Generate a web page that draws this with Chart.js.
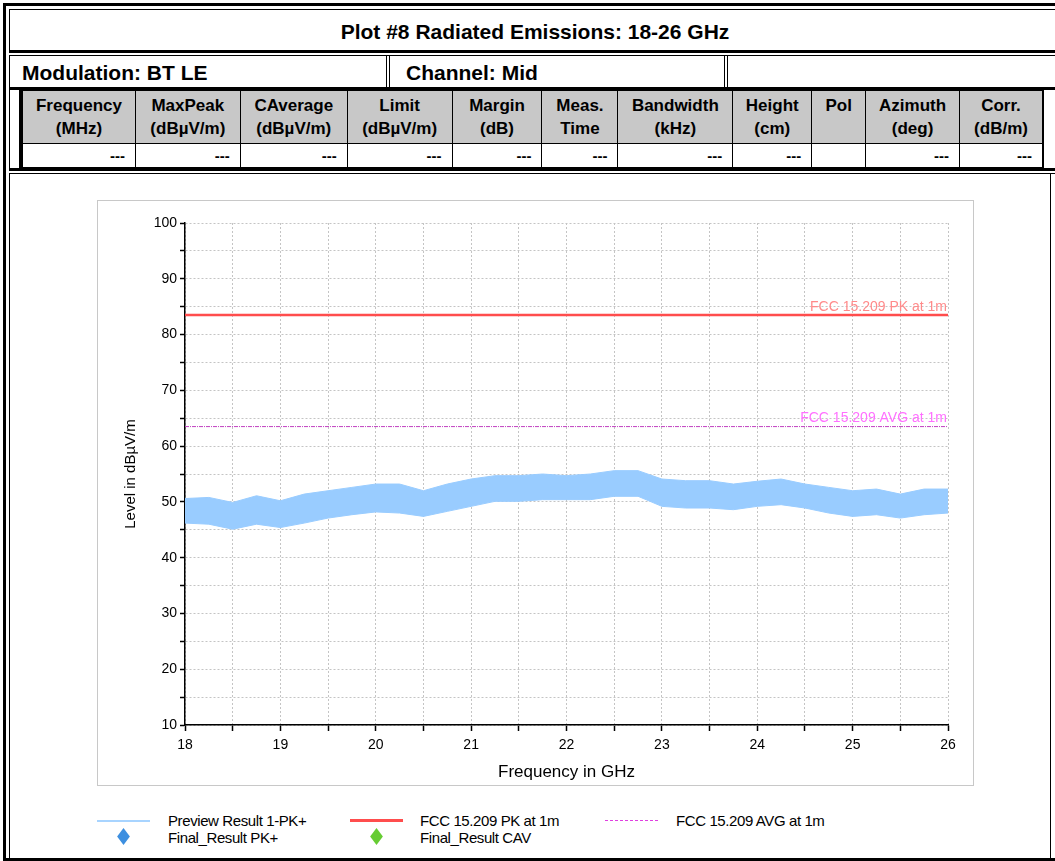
<!DOCTYPE html>
<html>
<head>
<meta charset="utf-8">
<script src="https://cdn.jsdelivr.net/npm/chart.js@4.4.1/dist/chart.umd.min.js"></script>
<style>
  body { margin: 0; background: #fff; font-family: "Liberation Sans", Arial, sans-serif; }
  #page { position: relative; width: 1055px; height: 861px; overflow: hidden; }
  .box { position: absolute; box-sizing: border-box; }
  .hdr td { background: #c8c8c8; font-weight: bold; font-size: 17px; text-align: center; line-height: 23px; }
  table { border-collapse: collapse; position: absolute; }
  td { border: 1px solid #000; padding: 0; }
  .row td { font-weight: bold; font-size: 15px; text-align: right; padding-right: 10px; height: 23px; }
  #panel { position: absolute; left: 97px; top: 200px; width: 877px; height: 586px; border: 1px solid #c8c8c8; box-sizing: border-box; }
  #panel canvas { position: absolute; left: -1px; top: -1px; }
  .lg { position: absolute; font-size: 15px; letter-spacing: -0.4px; color: #000; }
</style>
</head>
<body>
<div id="page">
  <!-- outer frame -->
  <div class="box" style="left:3px;top:3px;width:1060px;height:858px;border:3px solid #000;"></div>
  <!-- title -->
  <div class="box" style="left:9px;top:9px;width:1050px;height:44px;border:1px solid #000;border-bottom:3px solid #000;"></div>
  <div class="box" style="left:9px;top:20px;width:1052px;text-align:center;font-weight:bold;font-size:21px;">Plot #8 Radiated Emissions: 18-26 GHz</div>
  <!-- modulation / channel row -->
  <div class="box" style="left:9px;top:55px;width:1050px;height:35px;border-top:1px solid #000;border-bottom:3px solid #000;"></div>
  <div class="box" style="left:9px;top:55px;width:378px;height:33px;border-right:1px solid #000;border-left:1px solid #000;"></div>
  <div class="box" style="left:389px;top:55px;width:336px;height:33px;border-left:1px solid #000;border-right:1px solid #000;"></div>
  <div class="box" style="left:727px;top:55px;width:2px;height:33px;border-left:1px solid #000;"></div>
  <div class="box" style="left:22px;top:61px;font-weight:bold;font-size:21px;">Modulation: BT LE</div>
  <div class="box" style="left:406px;top:61px;font-weight:bold;font-size:21px;">Channel: Mid</div>
  <!-- results table -->
  <div class="box" style="left:9px;top:90px;width:13px;height:78px;border-left:1px solid #000;border-right:3px solid #000;"></div>
  <table style="left:22px;top:90px;width:1021px;">
    <tr class="hdr">
      <td style="width:112px;height:52px;">Frequency<br>(MHz)</td>
      <td style="width:104px;">MaxPeak<br>(dBµV/m)</td>
      <td style="width:106px;">CAverage<br>(dBµV/m)</td>
      <td style="width:104px;">Limit<br>(dBµV/m)</td>
      <td style="width:89px;">Margin<br>(dB)</td>
      <td style="width:75px;">Meas.<br>Time</td>
      <td style="width:114px;">Bandwidth<br>(kHz)</td>
      <td style="width:78px;">Height<br>(cm)</td>
      <td style="width:53px;">Pol<br>&nbsp;</td>
      <td style="width:93px;">Azimuth<br>(deg)</td>
      <td style="width:82px;">Corr.<br>(dB/m)</td>
    </tr>
    <tr class="row">
      <td>---</td><td>---</td><td>---</td><td>---</td><td>---</td><td>---</td>
      <td>---</td><td>---</td><td></td><td>---</td><td>---</td>
    </tr>
  </table>
  <div class="box" style="left:1043px;top:90px;width:12px;height:78px;border-left:1px solid #000;"></div>
  <div class="box" style="left:9px;top:168px;width:1050px;height:6px;border-top:3px solid #000;border-bottom:1px solid #000;"></div>
  <!-- chart section -->
  <div class="box" style="left:9px;top:174px;width:1042px;height:685px;border-left:1px solid #000;border-right:1px solid #000;"></div>

  <div id="panel"><canvas id="chart" width="877" height="586"></canvas></div>

  <!-- legend -->
  <div class="box" style="left:97px;top:820px;width:53px;height:2px;background:#a8d4ff;"></div>
  <div class="lg" style="left:168px;top:812px;">Preview Result 1-PK+</div>
  <div class="box" style="left:350px;top:819px;width:53px;height:3px;background:#ff4d4d;"></div>
  <div class="lg" style="left:420px;top:812px;">FCC 15.209 PK at 1m</div>
  <div class="box" style="left:605px;top:820px;width:53px;height:0;border-top:1px dashed #e040e0;"></div>
  <div class="lg" style="left:676px;top:812px;">FCC 15.209 AVG at 1m</div>
  <div class="box" style="left:119px;top:832px;width:9px;height:9px;background:#3d8fe0;transform:scaleY(1.35) rotate(45deg);"></div>
  <div class="lg" style="left:168px;top:829px;">Final_Result PK+</div>
  <div class="box" style="left:372px;top:832px;width:9px;height:9px;background:#66cc33;transform:scaleY(1.35) rotate(45deg);"></div>
  <div class="lg" style="left:420px;top:829px;">Final_Result CAV</div>
</div>

<script>
// frequency in GHz, read every 0.25 GHz
let freqs = [18, 18.25, 18.5, 18.75, 19, 19.25, 19.5, 19.75, 20, 20.25, 20.5, 20.75,
  21, 21.25, 21.5, 21.75, 22, 22.25, 22.5, 22.75, 23, 23.25, 23.5, 23.75,
  24, 24.25, 24.5, 24.75, 25, 25.25, 25.5, 25.75, 26];

// preview PK+ trace: upper and lower edge of the noise band (dBµV/m)
let peakUpper = [50.6, 50.8, 49.9, 51.1, 50.2, 51.4, 52.0, 52.6, 53.2, 53.2, 52.0, 53.2,
  54.1, 54.7, 54.7, 55.0, 54.7, 55.0, 55.6, 55.6, 54.1, 53.8, 53.8, 53.2,
  53.7, 54.1, 53.2, 52.6, 52.0, 52.3, 51.4, 52.3, 52.3];
let peakLower = [46.2, 46.0, 45.1, 46.0, 45.4, 46.2, 47.1, 47.7, 48.2, 48.0, 47.4, 48.3,
  49.2, 50.1, 50.1, 50.4, 50.4, 50.4, 51.0, 51.0, 49.2, 48.9, 48.9, 48.6,
  49.2, 49.5, 48.9, 48.0, 47.4, 47.7, 47.1, 47.7, 48.0];

// limits
let limitNames = ["FCC 15.209 PK at 1m", "FCC 15.209 AVG at 1m"];
let limitValues = [83.5, 63.5];
let limitColors = ["#ff4d4d", "#c040c0"];
let limitTextColors = ["#ff8a8a", "#ff70ff"];

let xMin = 18, xMax = 26;
let yMin = 10, yMax = 100;

let upperPts = freqs.map((f, i) => ({ x: f, y: peakUpper[i] }));
let lowerPts = freqs.map((f, i) => ({ x: f, y: peakLower[i] }));

// draw the limit names just above their lines
let limitLabels = {
  id: "limitLabels",
  afterDatasetsDraw(chart) {
    let ctx = chart.ctx;
    let xs = chart.scales.x, ys = chart.scales.y;
    ctx.save();
    ctx.font = "14px 'Liberation Sans', Arial";
    ctx.textAlign = "right";
    ctx.textBaseline = "bottom";
    limitValues.forEach((v, i) => {
      ctx.fillStyle = limitTextColors[i];
      ctx.fillText(limitNames[i], xs.getPixelForValue(xMax) - 1, ys.getPixelForValue(v) - 1);
    });
    ctx.restore();
  }
};

let chart = new Chart(document.getElementById("chart"), {
  type: "line",
  data: {
    datasets: [
      { label: "upper", data: upperPts, borderColor: "#99ccff", backgroundColor: "#99ccff",
        borderWidth: 1, pointRadius: 0, fill: false, tension: 0 },
      { label: "Preview Result 1-PK+", data: lowerPts, borderColor: "#99ccff", backgroundColor: "#99ccff",
        borderWidth: 1, pointRadius: 0, fill: "-1", tension: 0 },
      { label: limitNames[0], data: [{ x: xMin, y: limitValues[0] }, { x: xMax, y: limitValues[0] }],
        borderColor: limitColors[0], borderWidth: 2.5, pointRadius: 0, fill: false },
      { label: limitNames[1], data: [{ x: xMin, y: limitValues[1] }, { x: xMax, y: limitValues[1] }],
        borderColor: limitColors[1], borderWidth: 1, borderDash: [4, 1, 1, 1], pointRadius: 0, fill: false }
    ]
  },
  options: {
    responsive: false,
    animation: false,
    layout: { padding: { left: 0, right: 26, top: 23, bottom: 0 } },
    plugins: { legend: { display: false }, tooltip: { enabled: false } },
    scales: {
      x: {
        type: "linear", min: xMin, max: xMax,
        afterFit: s => { s.height = 61; },
        afterBuildTicks: s => {
          s.ticks = [];
          for (let v = xMin; v <= xMax; v += 0.5) s.ticks.push({ value: v });
        },
        ticks: { color: "#000", font: { size: 14, family: "'Liberation Sans', Arial" }, padding: 6,
          maxRotation: 0, autoSkip: false,
          callback: v => Number.isInteger(v) ? String(v) : "" },
        grid: { color: "#c4c4c4", lineWidth: 1, tickLength: 6, tickColor: "#000", tickWidth: 1.5 },
        border: { color: "#000", width: 1.5, dash: [2, 2] },
        title: { display: true, text: "Frequency in GHz", color: "#000",
          font: { size: 17, family: "'Liberation Sans', Arial" }, padding: { top: 4, bottom: 3 } }
      },
      y: {
        min: yMin, max: yMax,
        afterFit: s => { s.width = 88; },
        ticks: { stepSize: 5, color: "#000", font: { size: 14, family: "'Liberation Sans', Arial" }, padding: 3,
          callback: v => v % 10 === 0 ? String(v) : "" },
        grid: { color: "#c4c4c4", lineWidth: 1, tickLength: 5, tickColor: "#000", tickWidth: 1.5 },
        border: { color: "#000", width: 1.5, dash: [2, 2] },
        title: { display: true, text: "Level in dBµV/m", color: "#000",
          font: { size: 15, family: "'Liberation Sans', Arial" }, padding: { top: 25, bottom: 4 } }
      }
    }
  },
  plugins: [limitLabels]
});
</script>
</body>
</html>
